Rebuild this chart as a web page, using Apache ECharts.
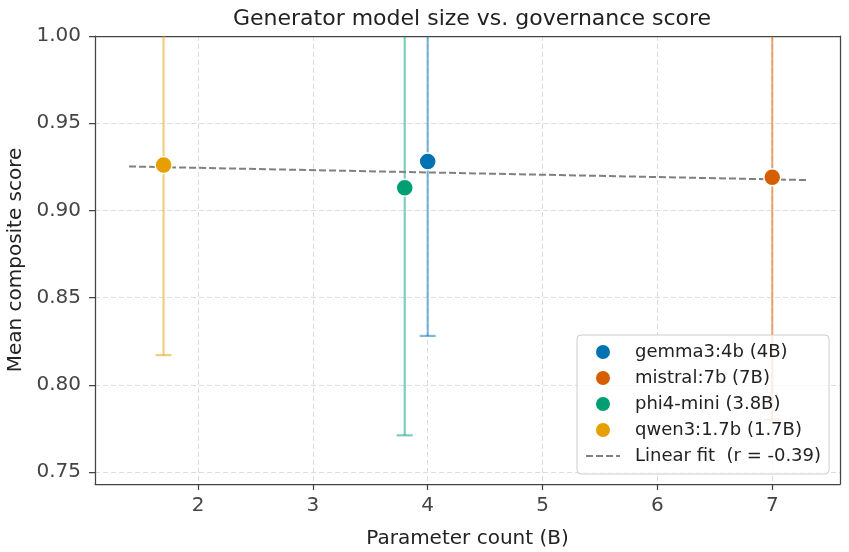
<!DOCTYPE html>
<html>
<head>
<meta charset="utf-8">
<script src="https://cdn.jsdelivr.net/npm/echarts@6/dist/echarts.min.js"></script>
<style>html,body{margin:0;padding:0;background:#fff}#c{width:849px;height:552px}</style>
</head>
<body>
<div id="c"></div>
<script>
const models = ['gemma3:4b (4B)', 'mistral:7b (7B)', 'phi4-mini (3.8B)', 'qwen3:1.7b (1.7B)'];
const params = [4, 7, 3.8, 1.7];
const means = [0.928, 0.919, 0.913, 0.926];
const lowers = [0.828, 0.780, 0.771, 0.817];
const uppers = [1.028, 1.058, 1.055, 1.035];
const colors = ['#0072b2', '#d55e00', '#009e73', '#e69f00'];
const fitName = 'Linear fit  (r = -0.39)';
const fitX = [1.4, 7.3];
const fitY = [0.9252, 0.9174];
const xTicks = [2, 3, 4, 5, 6, 7];
const yTicks = [0.75, 0.80, 0.85, 0.90, 0.95, 1.00];

const FONT = 'DejaVu Sans';
const XMIN = 1.103, XMAX = 7.59, YMIN = 0.7431, YMAX = 1.0;
const chart = echarts.init(document.getElementById('c'), null, {renderer: 'canvas'});

const errData = params.map((p, i) => ({value: [p, lowers[i], uppers[i]], itemStyle: {color: colors[i]}}));

const series = [
  {
    type: 'custom',
    name: 'err',
    z: 3,
    clip: true,
    data: errData,
    renderItem: function (prm, api) {
      const x = api.value(0), lo = api.value(1), hi = api.value(2);
      const a = api.coord([x, lo]);
      const b = api.coord([x, hi]);
      const col = colors[prm.dataIndex];
      const st = {stroke: col, lineWidth: 2.2, opacity: 0.5};
      const cw = 8;
      return {
        type: 'group',
        children: [
          {type: 'line', shape: {x1: a[0], y1: a[1], x2: b[0], y2: b[1]}, style: st},
          {type: 'line', shape: {x1: a[0] - cw, y1: a[1], x2: a[0] + cw, y2: a[1]}, style: st},
          {type: 'line', shape: {x1: b[0] - cw, y1: b[1], x2: b[0] + cw, y2: b[1]}, style: st}
        ]
      };
    }
  },
  {
    type: 'line',
    name: fitName,
    z: 4,
    data: fitX.map((x, i) => [x, fitY[i]]),
    showSymbol: false,
    symbol: 'none',
    lineStyle: {color: '#808080', width: 2, type: [7, 3]},
    itemStyle: {color: '#808080'},
    silent: true
  }
];
models.forEach((m, i) => {
  series.push({
    type: 'scatter',
    name: m,
    z: 5,
    symbol: 'circle',
    symbolSize: 17,
    data: [[params[i], means[i]]],
    itemStyle: {color: colors[i], borderColor: '#fff', borderWidth: 1.5, opacity: 1}
  });
});

const axisCommon = {
  axisLine: {show: true, lineStyle: {color: '#444', width: 1.25}},
  axisTick: {show: true, length: 6, inside: false, lineStyle: {color: '#444', width: 1.25}},
  splitLine: {show: true, lineStyle: {color: '#dcdcdc', type: [5, 3], width: 1}},
  nameTextStyle: {fontFamily: FONT, fontSize: 20, color: '#222'},
  z: 0
};
const spine = {
  type: 'value', show: true,
  axisLine: {show: true, onZero: false, lineStyle: {color: '#444', width: 1.25}},
  axisTick: {show: false}, axisLabel: {show: false}, splitLine: {show: false}, z: 0
};

chart.setOption({
  animation: false,
  backgroundColor: '#fff',
  title: {
    text: 'Generator model size vs. governance score',
    left: 467, textAlign: 'center', top: 3,
    textStyle: {fontFamily: FONT, fontSize: 22, fontWeight: 'normal', color: '#222'}
  },
  grid: {left: 95, right: 9, top: 36, bottom: 68, outerBoundsMode: 'none', containLabel: false},
  legend: {
    orient: 'vertical',
    left: 577, top: 335, z: 10,
    padding: [8, 8, 9, 8],
    itemWidth: 34, itemHeight: 16, itemGap: 8,
    backgroundColor: 'rgba(255,255,255,0.8)',
    borderColor: '#cccccc', borderWidth: 1, borderRadius: 4,
    data: models.map((m) => ({name: m, icon: 'circle'})).concat([{name: fitName, itemStyle: {opacity: 0}}]),
    textStyle: {fontFamily: FONT, fontSize: 18, lineHeight: 18, color: '#222', padding: [0, 0, 0, 10]}
  },
  xAxis: [
    Object.assign({}, axisCommon, {
      type: 'value', min: XMIN, max: XMAX, position: 'bottom',
      name: 'Parameter count (B)', nameLocation: 'middle', nameGap: 45,
      axisTick: Object.assign({}, axisCommon.axisTick, {customValues: xTicks}),
      axisLabel: {customValues: xTicks, fontFamily: FONT, fontSize: 20, color: '#444', margin: 12, formatter: (v) => String(v)}
    }),
    Object.assign({}, spine, {min: XMIN, max: XMAX, position: 'top'})
  ],
  yAxis: [
    Object.assign({}, axisCommon, {
      type: 'value', min: YMIN, max: YMAX, position: 'left',
      name: 'Mean composite score', nameLocation: 'middle', nameGap: 68,
      axisTick: Object.assign({}, axisCommon.axisTick, {customValues: yTicks}),
      axisLabel: {customValues: yTicks, fontFamily: FONT, fontSize: 20, color: '#444', margin: 14, formatter: (v) => v.toFixed(2)}
    }),
    Object.assign({}, spine, {min: YMIN, max: YMAX, position: 'right'})
  ],
  series: series
});
</script>
</body>
</html>
